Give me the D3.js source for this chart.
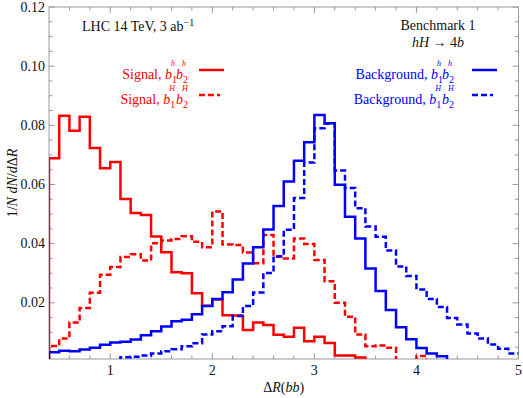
<!DOCTYPE html>
<html>
<head>
<meta charset="utf-8">
<script src="https://cdn.jsdelivr.net/npm/d3@7"></script>
<style>
  body { margin: 0; background: #fff; }
  svg text { font-family: "Liberation Serif", "Times New Roman", serif; fill: #111; }
</style>
</head>
<body>
<div class="chart"></div>
<script>
// bin left edges, width 0.1
var bins = d3.range(46).map(function(i) { return +(0.4 + i * 0.1).toFixed(1); });

// signal, b1^h b2^h (solid red)
var sigh = [0.0689, 0.0832, 0.0782, 0.0829, 0.0723, 0.0655, 0.0676, 0.0551, 0.0504, 0.0497,
            0.0424, 0.0371, 0.0303, 0.0300, 0.0232, 0.0190, 0.0211, 0.0158, 0.0157, 0.0108,
            0.0133, 0.0125, 0.0092, 0.0085, 0.0116, 0.0070, 0.0085, 0.0064, 0.0022, 0.0022,
            0.0015, 0, 0, 0, 0, 0, 0, 0, 0, 0, 0, 0, 0, 0, 0, 0];
// signal, b1^H b2^H (dashed red)
var sigH = [0.0054, 0.0079, 0.0133, 0.0182, 0.0234, 0.0295, 0.0321, 0.0355, 0.0364, 0.0343,
            0.0401, 0.0411, 0.0416, 0.0425, 0.0406, 0.0388, 0.0509, 0.0397, 0.0395, 0.0370,
            0.0334, 0.0429, 0.0356, 0.0350, 0.0417, 0.0399, 0.0345, 0.0273, 0.0200, 0.0153,
            0.0093, 0.0053, 0.0056, 0.0048, 0, 0, 0.0020, 0, 0, 0, 0, 0, 0, 0, 0, 0];
// background, b1^h b2^h (solid blue)
var bkgh = [0.0033, 0.0038, 0.0036, 0.0042, 0.0048, 0.0058, 0.0066, 0.0068, 0.0076, 0.0090,
            0.0104, 0.0120, 0.0138, 0.0143, 0.0161, 0.0189, 0.0213, 0.0236, 0.0279, 0.0333,
            0.0388, 0.0448, 0.0527, 0.0610, 0.0680, 0.0743, 0.0835, 0.0807, 0.0599, 0.0491,
            0.0417, 0.0316, 0.0240, 0.0176, 0.0117, 0.0077, 0.0047, 0.0029, 0.0019, 0,
            0, 0, 0, 0, 0, 0];
// background, b1^H b2^H (dashed blue)
var bkgH = [0, 0, 0, 0, 0, 0, 0, 0.0016, 0.0018, 0.0022,
            0.0029, 0.0036, 0.0043, 0.0053, 0.0063, 0.0093, 0.0104, 0.0121, 0.0155, 0.0189,
            0.0235, 0.0301, 0.0357, 0.0447, 0.0554, 0.0674, 0.0790, 0.0805, 0.0647, 0.0588,
            0.0520, 0.0458, 0.0423, 0.0377, 0.0323, 0.0291, 0.0245, 0.0213, 0.0186, 0.0149,
            0.0127, 0.0096, 0.0079, 0.0059, 0.0045, 0.0029];

var xTicks = [1, 2, 3, 4, 5];
var yTicks = [0.02, 0.04, 0.06, 0.08, 0.10, 0.12];

var svgW = 523, svgH = 398;
var margin = { top: 7, right: 4.5, bottom: 39, left: 49 };
var w = svgW - margin.left - margin.right;
var h = svgH - margin.top - margin.bottom;

var svg = d3.select(".chart").append("svg")
    .attr("width", svgW).attr("height", svgH)
    .append("g")
    .attr("transform", "translate(" + margin.left + "," + margin.top + ")");

var xLS = d3.scaleLinear().domain([0.4, 5]).range([0, w]);
var yLS = d3.scaleLinear().domain([0.001, 0.12]).range([h, 0]);

svg.append("clipPath").attr("id", "clip")
    .append("rect").attr("width", w).attr("height", h);

// frame with inward ticks on all sides
var frame = svg.append("g").attr("class", "frame");
var xMinor = d3.range(0.6, 5, 0.2).map(function(d) { return +d.toFixed(1); })
    .filter(function(d) { return xTicks.indexOf(d) < 0; });
var yMinor = d3.range(0.005, 0.12, 0.005).map(function(d) { return +d.toFixed(3); })
    .filter(function(d) { return yTicks.indexOf(d) < 0; });

function tickLines(vals, len, horiz) {
    vals.forEach(function(v) {
        if (horiz) {
            var px = xLS(v);
            frame.append("line").attr("x1", px).attr("x2", px).attr("y1", h).attr("y2", h - len);
            frame.append("line").attr("x1", px).attr("x2", px).attr("y1", 0).attr("y2", len);
        } else {
            var py = yLS(v);
            frame.append("line").attr("y1", py).attr("y2", py).attr("x1", 0).attr("x2", len);
            frame.append("line").attr("y1", py).attr("y2", py).attr("x1", w).attr("x2", w - len);
        }
    });
}
tickLines(xTicks, 6, true);
tickLines(xMinor, 3.5, true);
tickLines(yTicks, 6, false);
tickLines(yMinor, 3.5, false);
frame.append("rect").attr("width", w).attr("height", h).attr("fill", "none");
frame.selectAll("line,rect").attr("stroke", "#999").attr("stroke-width", 1);

// tick labels
svg.selectAll(".xlab").data(xTicks).enter().append("text")
    .attr("class", "xlab")
    .attr("x", function(d) { return xLS(d); })
    .attr("y", h + 16)
    .attr("text-anchor", "middle")
    .style("font-size", "14px")
    .text(function(d) { return d; });

svg.selectAll(".ylab").data(yTicks).enter().append("text")
    .attr("class", "ylab")
    .attr("x", -4)
    .attr("y", function(d) { return yLS(d) + 4.5; })
    .attr("text-anchor", "end")
    .style("font-size", "14px")
    .text(function(d) { return d3.format(".2f")(d); });

// axis titles
var xt = svg.append("text")
    .attr("x", w / 2).attr("y", h + 33)
    .attr("text-anchor", "middle").style("font-size", "14px");
xt.append("tspan").text("Δ");
xt.append("tspan").style("font-style", "italic").text("R");
xt.append("tspan").text("(");
xt.append("tspan").style("font-style", "italic").text("bb");
xt.append("tspan").text(")");

var yt = svg.append("text")
    .attr("transform", "translate(" + (-32) + "," + (h / 2) + ") rotate(-90)")
    .attr("text-anchor", "middle").style("font-size", "14px");
yt.append("tspan").text("1/");
yt.append("tspan").style("font-style", "italic").text("N dN");
yt.append("tspan").text("/");
yt.append("tspan").style("font-style", "italic").text("d");
yt.append("tspan").text("Δ");
yt.append("tspan").style("font-style", "italic").text("R");

// histograms
var line = d3.line()
    .x(function(d) { return xLS(d[0]); })
    .y(function(d) { return yLS(d[1]); })
    .curve(d3.curveStepAfter);

function stepPts(vals) {
    var pts = [[bins[0], 0]];
    bins.forEach(function(b, i) { pts.push([b, vals[i]]); });
    pts.push([5, vals[vals.length - 1]]);
    return pts;
}

var series = [
    { vals: sigh, color: "#ff0000", dash: null },
    { vals: sigH, color: "#ff0000", dash: "6,3" },
    { vals: bkgh, color: "#0000ff", dash: null },
    { vals: bkgH, color: "#0000ff", dash: "6,3" }
];

var Chrt = svg.append("g").attr("clip-path", "url(#clip)");
Chrt.selectAll("path").data(series).enter().append("path")
    .attr("d", function(d) { return line(stepPts(d.vals)); })
    .attr("fill", "none")
    .attr("stroke", function(d) { return d.color; })
    .attr("stroke-width", 2.5)
    .attr("stroke-dasharray", function(d) { return d.dash; });

// annotations
var lhc = svg.append("text").attr("x", 33).attr("y", 23.5).style("font-size", "14px");
lhc.append("tspan").text("LHC 14 TeV, 3 ab");
lhc.append("tspan").attr("dy", -5).style("font-size", "10px").text("−1");

svg.append("text").attr("x", 389).attr("y", 22.5).attr("text-anchor", "middle")
    .style("font-size", "14px").text("Benchmark 1");
var hh = svg.append("text").attr("x", 389).attr("y", 40).attr("text-anchor", "middle")
    .style("font-size", "14px");
hh.append("tspan").style("font-style", "italic").text("hH");
hh.append("tspan").text(" → 4");
hh.append("tspan").style("font-style", "italic").text("b");

// legend
function bLabel(sel, label, sup) {
    sel.append("tspan").text(label + ", ");
    sel.append("tspan").style("font-style", "italic").text("b");
    sel.append("tspan").attr("dy", 4).style("font-size", "10px").text("1");
    sel.append("tspan").attr("dx", -6).attr("dy", -17).style("font-size", "8px")
        .style("font-style", "italic").text(sup);
    sel.append("tspan").attr("dx", 1).attr("dy", 13).style("font-style", "italic").text("b");
    sel.append("tspan").attr("dy", 4).style("font-size", "10px").text("2");
    sel.append("tspan").attr("dx", -6).attr("dy", -17).style("font-size", "8px")
        .style("font-style", "italic").text(sup);
    sel.append("tspan").attr("dx", 2).text("");
}

var legend = [
    { label: "Signal", sup: "h", color: "#ff0000", dash: null, x: 139, y: 72, lx: 150 },
    { label: "Signal", sup: "H", color: "#ff0000", dash: "6,3", x: 139, y: 97, lx: 150 },
    { label: "Background", sup: "h", color: "#0000ff", dash: null, x: 405, y: 72, lx: 423 },
    { label: "Background", sup: "H", color: "#0000ff", dash: "6,3", x: 405, y: 97, lx: 423 }
];
legend.forEach(function(d) {
    var t = svg.append("text").attr("x", d.x).attr("y", d.y)
        .attr("text-anchor", "end").style("font-size", "14px")
        .style("fill", d.color);
    bLabel(t, d.label, d.sup);
    svg.append("line")
        .attr("x1", d.lx).attr("x2", d.lx + (d.dash ? 21 : 25))
        .attr("y1", d.y - 9).attr("y2", d.y - 9)
        .attr("stroke", d.color).attr("stroke-width", 2.5)
        .attr("stroke-dasharray", d.dash);
});
</script>
</body>
</html>
